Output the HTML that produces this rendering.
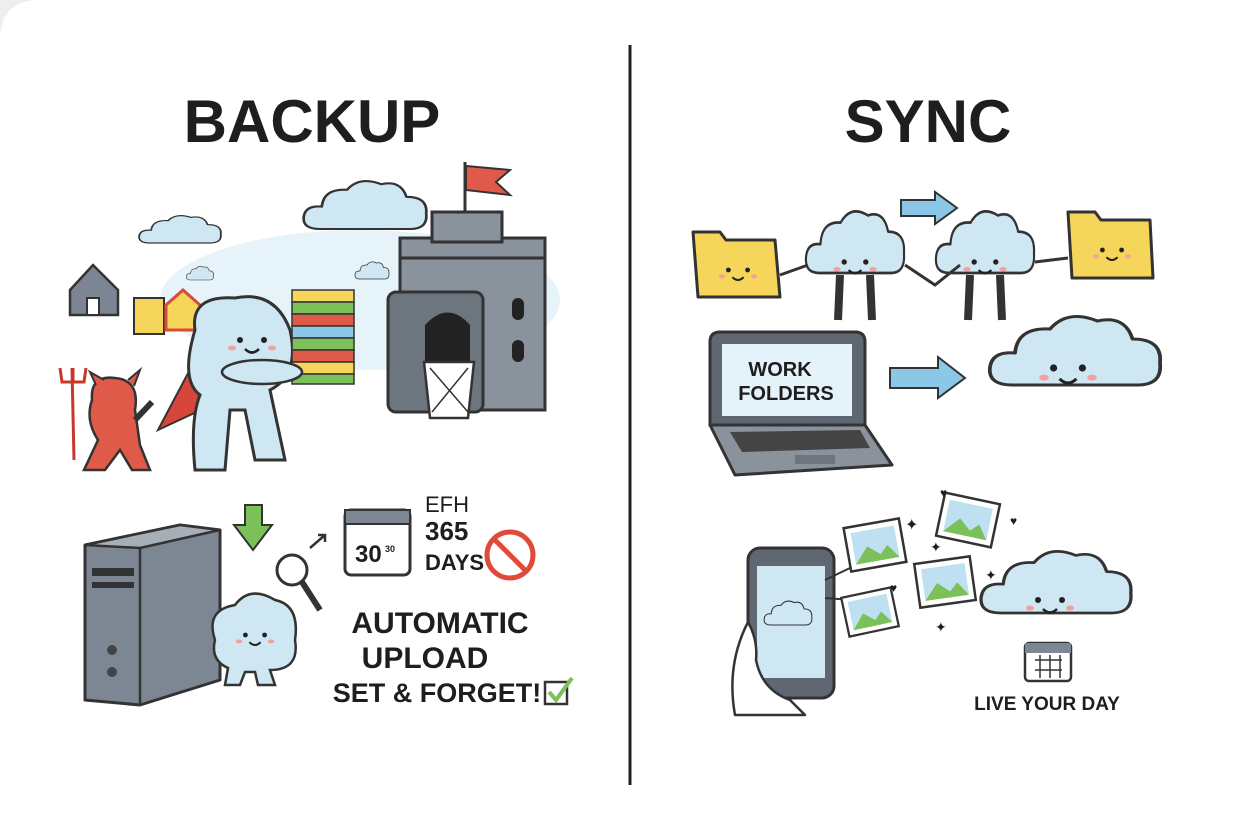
<!DOCTYPE html>
<html><head><meta charset="utf-8"><style>
html,body{margin:0;padding:0;background:#fff;}
svg{display:block;}
text{font-family:"Liberation Sans","DejaVu Sans",sans-serif;font-weight:bold;fill:#1e1e1e;}
</style></head><body>
<svg width="1248" height="832" viewBox="0 0 1248 832" xmlns="http://www.w3.org/2000/svg">
<defs>
<g id="cl"><path d="M-50,20 Q-70,20 -68,2 Q-66,-14 -48,-12 Q-46,-38 -20,-36 Q-6,-56 18,-44 Q40,-50 46,-26 Q70,-26 68,-2 Q70,20 50,20 Z" fill="#cfe6f3" stroke="#333" stroke-width="3" stroke-linejoin="round"/></g>
<g id="face"><circle cx="-12" cy="0" r="3" fill="#222"/><circle cx="12" cy="0" r="3" fill="#222"/><path d="M-7,9 Q0,16 7,9" fill="none" stroke="#222" stroke-width="2.5"/><ellipse cx="-20" cy="8" rx="4" ry="2.5" fill="#f4a0a0"/><ellipse cx="20" cy="8" rx="4" ry="2.5" fill="#f4a0a0"/></g>
<g id="photo"><rect x="-28" y="-22" width="56" height="44" fill="#fff" stroke="#333" stroke-width="2.5"/><rect x="-22" y="-16" width="44" height="32" fill="#bfe0f0"/><path d="M-22,16 L-8,0 L4,10 L12,2 L22,16 Z" fill="#7cc05a"/></g>
</defs>
<path d="M0,0 L40,0 Q0,0 0,40 Z" fill="#eee"/>
<line x1="630" y1="45" x2="630" y2="785" stroke="#222" stroke-width="3"/>
<text x="312" y="142" font-size="60" text-anchor="middle" style="font-weight:900">BACKUP</text>
<text x="928" y="142" font-size="60" text-anchor="middle" style="font-weight:900">SYNC</text>

<ellipse cx="360" cy="300" rx="200" ry="70" fill="#dceef7" opacity="0.7"/>
<g transform="translate(180,235) scale(0.6,0.4)"><use href="#cl"/></g>
<g transform="translate(365,215) scale(0.9,0.7)"><use href="#cl"/></g>
<g transform="translate(200,276) scale(0.2,0.2)"><use href="#cl"/></g>
<g transform="translate(372,274) scale(0.25,0.25)"><use href="#cl"/></g>
<path d="M70,290 L93,265 L118,290 L118,315 L70,315 Z" fill="#7b8593" stroke="#333" stroke-width="2.5"/>
<rect x="87" y="298" width="12" height="17" fill="#fff" stroke="#333" stroke-width="2"/>
<rect x="134" y="298" width="30" height="36" fill="#f5d55a" stroke="#333" stroke-width="2"/>
<path d="M166,305 L183,290 L200,305 L200,330 L166,330 Z" fill="#f5d55a" stroke="#d84a3a" stroke-width="3"/>
<rect x="400" y="255" width="145" height="155" fill="#8a929c" stroke="#333" stroke-width="3"/>
<rect x="400" y="238" width="145" height="20" fill="#8a929c" stroke="#333" stroke-width="3"/>
<rect x="432" y="212" width="70" height="30" fill="#8a929c" stroke="#333" stroke-width="3"/>
<line x1="465" y1="212" x2="465" y2="162" stroke="#333" stroke-width="3"/>
<path d="M466,166 L510,170 L496,182 L510,195 L466,190 Z" fill="#e05a4a" stroke="#333" stroke-width="2"/>
<rect x="388" y="292" width="95" height="120" rx="8" fill="#6d757f" stroke="#333" stroke-width="3"/>
<path d="M425,362 L425,325 Q448,300 470,325 L470,362 Z" fill="#222"/>
<rect x="512" y="298" width="12" height="22" rx="6" fill="#222"/><rect x="512" y="340" width="12" height="22" rx="6" fill="#222"/>
<path d="M424,362 L474,362 L468,418 L430,418 Z" fill="#fff" stroke="#333" stroke-width="2.5"/>
<path d="M430,368 L468,412 M468,368 L432,412" stroke="#333" stroke-width="1.5"/>
<path d="M195,360 L158,430 L205,408 Z" fill="#d7463a" stroke="#333" stroke-width="2"/>
<path d="M195,330 Q190,295 235,298 Q275,290 290,330 Q300,375 270,390 L285,460 L255,460 L245,410 L230,410 L225,470 L195,470 Q190,420 200,395 Q180,380 195,330 Z" fill="#cfe6f3" stroke="#333" stroke-width="3"/>
<g transform="translate(252,340)"><use href="#face"/></g>
<g stroke="#333" stroke-width="1.5">
<rect x="292" y="290" width="62" height="12" fill="#f5d55a"/><rect x="292" y="302" width="62" height="12" fill="#7cc05a"/><rect x="292" y="314" width="62" height="12" fill="#e05a4a"/><rect x="292" y="326" width="62" height="12" fill="#8cc7e8"/><rect x="292" y="338" width="62" height="12" fill="#7cc05a"/><rect x="292" y="350" width="62" height="12" fill="#e05a4a"/><rect x="292" y="362" width="62" height="12" fill="#f5d55a"/><rect x="292" y="374" width="62" height="10" fill="#7cc05a"/>
</g>
<ellipse cx="262" cy="372" rx="40" ry="12" fill="#cfe6f3" stroke="#333" stroke-width="2.5"/>
<line x1="72" y1="368" x2="74" y2="460" stroke="#c9372c" stroke-width="3"/>
<path d="M60,368 L62,382 L84,382 L86,368 M73,368 L73,382" fill="none" stroke="#c9372c" stroke-width="3"/>
<path d="M92,400 Q90,375 115,378 Q140,380 135,410 L140,445 L150,470 L132,470 L120,450 L105,470 L84,470 L98,440 Q85,420 92,400 Z" fill="#e05a4a" stroke="#333" stroke-width="2.5"/>
<path d="M96,385 L90,372 L104,380 M128,380 L140,370 L134,386" fill="#e05a4a" stroke="#333" stroke-width="2"/>
<path d="M135,420 L152,402" stroke="#333" stroke-width="6"/>

<path d="M85,545 L180,525 L220,530 L220,680 L140,705 L85,700 Z" fill="#7c8793" stroke="#333" stroke-width="3" stroke-linejoin="round"/>
<path d="M85,545 L180,525 L220,530 L140,548 Z" fill="#a6aeb8" stroke="#333" stroke-width="2.5"/>
<path d="M140,548 L140,705" stroke="#333" stroke-width="2.5"/>
<rect x="92" y="568" width="42" height="8" fill="#333"/><rect x="92" y="582" width="42" height="6" fill="#333"/>
<circle cx="112" cy="650" r="5" fill="#444"/><circle cx="112" cy="672" r="5" fill="#444"/>
<path d="M245,505 L262,505 L262,525 L272,525 L253,550 L234,525 L245,525 Z" fill="#7cc05a" stroke="#333" stroke-width="2"/>
<path d="M215,640 Q205,610 235,605 Q250,585 275,600 Q300,605 295,640 Q300,670 270,670 L275,685 L258,685 L255,672 L245,672 L240,685 L225,685 L228,668 Q210,660 215,640 Z" fill="#cfe6f3" stroke="#333" stroke-width="2.5"/>
<g transform="translate(255,635) scale(0.8)"><use href="#face"/></g>
<circle cx="292" cy="570" r="15" fill="#fff" stroke="#333" stroke-width="3"/>
<line x1="302" y1="582" x2="320" y2="610" stroke="#333" stroke-width="6"/>
<path d="M310,548 L325,535 M318,535 L325,535 L325,542" stroke="#333" stroke-width="2.5" fill="none"/>
<rect x="345" y="510" width="65" height="65" rx="6" fill="#fff" stroke="#333" stroke-width="3"/>
<rect x="345" y="510" width="65" height="14" fill="#7c8793" stroke="#333" stroke-width="2"/>
<text x="355" y="562" font-size="24">30</text><text x="385" y="552" font-size="9">30</text>
<text x="425" y="512" font-size="22" style="font-weight:normal">EFH</text>
<text x="425" y="540" font-size="26">365</text>
<text x="425" y="570" font-size="22">DAYS</text>
<circle cx="510" cy="555" r="23" fill="none" stroke="#e04a3a" stroke-width="5"/>
<line x1="494" y1="539" x2="526" y2="571" stroke="#e04a3a" stroke-width="5"/>
<text x="440" y="633" font-size="30" text-anchor="middle">AUTOMATIC</text>
<text x="425" y="668" font-size="30" text-anchor="middle">UPLOAD</text>
<text x="437" y="702" font-size="27" text-anchor="middle">SET &amp; FORGET!</text>
<rect x="545" y="682" width="22" height="22" fill="#fff" stroke="#333" stroke-width="2.5"/>
<path d="M549,692 L556,700 L572,678" fill="none" stroke="#7cc05a" stroke-width="4"/>

<path d="M693,232 L720,232 L726,240 L775,240 L780,297 L698,297 Z" fill="#f5d55a" stroke="#333" stroke-width="3" stroke-linejoin="round"/>
<g transform="translate(738,270) scale(0.8)"><use href="#face"/></g>
<path d="M1068,212 L1095,212 L1101,220 L1150,220 L1153,278 L1072,278 Z" fill="#f5d55a" stroke="#333" stroke-width="3" stroke-linejoin="round"/>
<g transform="translate(1112,250) scale(0.8)"><use href="#face"/></g>
<g transform="translate(855,255) scale(0.72,0.9)"><use href="#cl"/></g>
<g transform="translate(855,262) scale(0.9)"><use href="#face"/></g>
<path d="M840,275 L838,320 M870,275 L872,320" stroke="#333" stroke-width="8"/>
<g transform="translate(985,255) scale(0.72,0.9)"><use href="#cl"/></g>
<g transform="translate(985,262) scale(0.9)"><use href="#face"/></g>
<path d="M970,275 L968,320 M1000,275 L1002,320" stroke="#333" stroke-width="8"/>
<path d="M780,275 L808,265 M905,265 L935,285 L960,265 M1035,262 L1068,258" stroke="#333" stroke-width="3" fill="none"/>
<path d="M901,200 L935,200 L935,192 L957,208 L935,224 L935,216 L901,216 Z" fill="#8cc7e8" stroke="#333" stroke-width="2"/>
<path d="M710,342 Q710,332 720,332 L855,332 Q865,332 865,342 L865,425 L710,425 Z" fill="#5f6872" stroke="#333" stroke-width="3"/>
<rect x="722" y="344" width="130" height="72" fill="#e4f2fa"/>
<text x="780" y="376" font-size="20" text-anchor="middle">WORK</text>
<text x="786" y="400" font-size="20" text-anchor="middle">FOLDERS</text>
<path d="M710,425 L865,425 L892,465 L735,475 Z" fill="#8a929c" stroke="#333" stroke-width="3" stroke-linejoin="round"/>
<path d="M730,432 L860,430 L870,448 L742,452 Z" fill="#444"/>
<rect x="795" y="455" width="40" height="9" fill="#6d757f"/>
<path d="M890,368 L938,368 L938,357 L965,378 L938,398 L938,388 L890,388 Z" fill="#8cc7e8" stroke="#333" stroke-width="2"/>
<g transform="translate(1075,365) scale(1.25,1.0)"><use href="#cl"/></g>
<g transform="translate(1068,368) scale(1.2)"><use href="#face"/></g>
<rect x="748" y="548" width="86" height="150" rx="12" fill="#5f6872" stroke="#333" stroke-width="3"/>
<rect x="757" y="566" width="68" height="112" fill="#cfe6f3"/>
<g transform="translate(788,618) scale(0.35)"><use href="#cl"/></g>
<path d="M735,715 Q726,665 748,622 Q758,640 756,660 Q762,690 790,700 L805,715 Z" fill="#fff" stroke="#333" stroke-width="2.5" stroke-linejoin="round"/>
<path d="M825,580 L850,568 M825,598 L852,600" stroke="#333" stroke-width="2"/>
<g transform="translate(875,545) rotate(-10)"><use href="#photo"/></g>
<g transform="translate(968,520) rotate(12)"><use href="#photo"/></g>
<g transform="translate(945,582) rotate(-8)"><use href="#photo"/></g>
<g transform="translate(870,612) rotate(-12) scale(0.9)"><use href="#photo"/></g>
<text x="905" y="530" font-size="16" fill="#e8c020">✦</text>
<text x="930" y="552" font-size="14" fill="#e8c020">✦</text>
<text x="935" y="632" font-size="14" fill="#e8c020">✦</text>
<text x="985" y="580" font-size="14" fill="#e8c020">✦</text>
<text x="940" y="497" font-size="12" fill="#e04a3a">♥</text>
<text x="1010" y="525" font-size="12" fill="#e04a3a">♥</text>
<text x="890" y="592" font-size="12" fill="#e04a3a">♥</text>
<g transform="translate(1056,595) scale(1.1,0.9)"><use href="#cl"/></g>
<g transform="translate(1050,600)"><use href="#face"/></g>
<rect x="1025" y="643" width="46" height="38" rx="4" fill="#fff" stroke="#333" stroke-width="2.5"/>
<rect x="1025" y="643" width="46" height="10" fill="#7c8793"/>
<path d="M1035,660 L1062,660 M1035,670 L1062,670 M1040,655 L1040,678 M1050,655 L1050,678 M1060,655 L1060,678" stroke="#333" stroke-width="1.5"/>
<text x="1047" y="710" font-size="19" text-anchor="middle">LIVE YOUR DAY</text>
</svg>
</body></html>
